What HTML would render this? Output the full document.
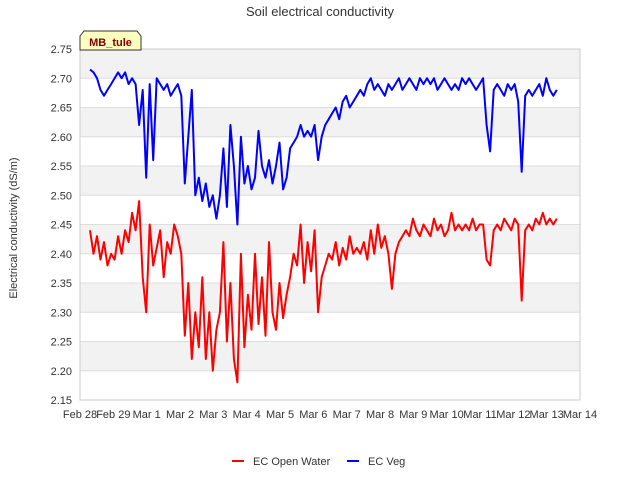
<!DOCTYPE html>
<html><head><meta charset="utf-8"><style>
body{margin:0;background:#fff;font-family:"Liberation Sans",sans-serif}
</style></head><body>
<svg width="640" height="480" xmlns="http://www.w3.org/2000/svg" font-family="Liberation Sans, sans-serif">
<rect width="640" height="480" fill="#fff"/>
<text x="320" y="16" text-anchor="middle" font-size="13" fill="#333">Soil electrical conductivity</text>
<g id="bands"></g><g id="yaxis"></g><g id="xaxis"></g>
<rect x="80" y="49" width="500" height="351" fill="none" stroke="#ccc"/>
<g id="series"></g>
<text transform="translate(17,228) rotate(-90)" text-anchor="middle" font-size="11" fill="#333">Electrical conductivity (dS/m)</text>
<g>
<path d="M80,50 L80,36 L84,31 L137,31 L141,36 L141,50 Z" fill="#ffffc0" stroke="#333"/>
<text x="110.5" y="46" text-anchor="middle" font-size="11" font-weight="bold" fill="#800000">MB_tule</text></g>
<g><line x1="232" y1="461" x2="244" y2="461" stroke="#f00" stroke-width="2"/><text x="253" y="465" font-size="11" fill="#333">EC Open Water</text></g>
<g><line x1="347" y1="461" x2="359" y2="461" stroke="#00f" stroke-width="2"/><text x="368" y="465" font-size="11" fill="#333">EC Veg</text></g>
</svg>
<script>
const xTickLabels=["Feb 28","Feb 29","Mar 1","Mar 2","Mar 3","Mar 4","Mar 5","Mar 6","Mar 7","Mar 8","Mar 9","Mar 10","Mar 11","Mar 12","Mar 13","Mar 14"];
const yTicks=[2.15,2.20,2.25,2.30,2.35,2.40,2.45,2.50,2.55,2.60,2.65,2.70,2.75];
const startDay=0.3, stepDay=0.1053;
const ecVeg=[2.715,2.71,2.70,2.68,2.67,2.68,2.69,
2.70,2.71,2.70,2.71,2.69,2.70,2.69,2.62,2.68,2.53,
2.69,2.56,2.70,2.69,2.68,2.69,2.67,2.68,2.69,2.67,
2.52,2.60,2.68,2.50,2.53,2.49,2.52,2.48,2.50,2.46,
2.50,2.58,2.48,2.62,2.55,2.45,2.60,2.52,2.55,2.51,
2.53,2.61,2.55,2.53,2.56,2.52,2.55,2.59,2.51,2.53,
2.58,2.59,2.60,2.62,2.60,2.61,2.60,2.62,2.56,2.60,
2.62,2.63,2.64,2.65,2.63,2.66,2.67,2.65,2.66,2.67,
2.68,2.67,2.69,2.70,2.68,2.69,2.68,2.67,2.69,2.68,
2.69,2.70,2.68,2.69,2.70,2.69,2.68,2.70,2.69,2.70,
2.69,2.70,2.68,2.69,2.70,2.69,2.68,2.69,2.68,2.70,
2.69,2.70,2.69,2.68,2.69,2.70,2.62,2.575,2.68,2.69,
2.68,2.67,2.69,2.68,2.69,2.66,2.54,2.67,2.68,2.67,
2.68,2.69,2.67,2.70,2.68,2.67,2.68];
const ecOpenWater=[2.44,2.40,2.43,2.39,2.42,2.38,2.40,
2.39,2.43,2.40,2.44,2.42,2.47,2.44,2.49,2.36,2.30,
2.45,2.38,2.41,2.44,2.36,2.42,2.40,2.45,2.43,2.40,
2.26,2.35,2.22,2.30,2.24,2.36,2.22,2.30,2.20,2.27,
2.30,2.42,2.25,2.35,2.22,2.18,2.40,2.24,2.33,2.27,
2.40,2.28,2.36,2.26,2.42,2.30,2.27,2.35,2.29,2.33,
2.36,2.40,2.38,2.45,2.35,2.42,2.37,2.44,2.30,2.36,
2.38,2.40,2.39,2.42,2.38,2.41,2.39,2.43,2.40,2.41,
2.40,2.42,2.39,2.44,2.40,2.45,2.41,2.43,2.40,2.34,
2.40,2.42,2.43,2.44,2.43,2.46,2.44,2.43,2.45,2.44,
2.43,2.46,2.44,2.45,2.43,2.44,2.47,2.44,2.45,2.44,
2.45,2.44,2.46,2.44,2.45,2.45,2.39,2.38,2.44,2.45,
2.44,2.46,2.45,2.44,2.46,2.45,2.32,2.44,2.45,2.44,
2.46,2.45,2.47,2.45,2.46,2.45,2.46];
const NS="http://www.w3.org/2000/svg";
const X0=80,X1=580,Y0=400,Y1=49,yMin=2.15,yMax=2.75,nDays=15;
const xS=d=>X0+(d/nDays)*(X1-X0);
const yS=v=>Y0-(v-yMin)/(yMax-yMin)*(Y0-Y1);
function mk(tag,attrs,parent){const e=document.createElementNS(NS,tag);for(const k in attrs)e.setAttribute(k,attrs[k]);parent.appendChild(e);return e;}
const bands=document.getElementById('bands'),ya=document.getElementById('yaxis'),xa=document.getElementById('xaxis'),sg=document.getElementById('series');
for(let i=0;i<yTicks.length-1;i++){
 if(i%2===1){const r=mk('rect',{x:X0,y:yS(yTicks[i+1]),width:X1-X0,height:yS(yTicks[i])-yS(yTicks[i+1]),fill:'#f2f2f2'},bands);
 
 }
}
yTicks.forEach(v=>{
 const l=mk('line',{x1:X0,x2:X1,y1:yS(v),y2:yS(v),stroke:'#ddd'},ya);
 
 
 const t=mk('text',{x:X0-8,y:yS(v)+4,'text-anchor':'end','font-size':11,fill:'#333'},ya);
 t.textContent=v.toFixed(2);
 
 
});
xTickLabels.forEach((s,i)=>{
 const t=mk('text',{x:xS(i),y:Y0+18,'text-anchor':'middle','font-size':11,fill:'#333'},xa);
 t.textContent=s;
 
 
});
function line(vals,color,name){
 const pts=vals.map((v,i)=>xS(startDay+i*stepDay).toFixed(1)+','+yS(v).toFixed(1)).join(' ');
 const p=mk('polyline',{points:pts,fill:'none',stroke:color,'stroke-width':2,'stroke-linejoin':'round'},sg);
 
 
}
line(ecOpenWater,'#f00','ec-open-water-line');
line(ecVeg,'#00f','ec-veg-line');
</script>
</body></html>
